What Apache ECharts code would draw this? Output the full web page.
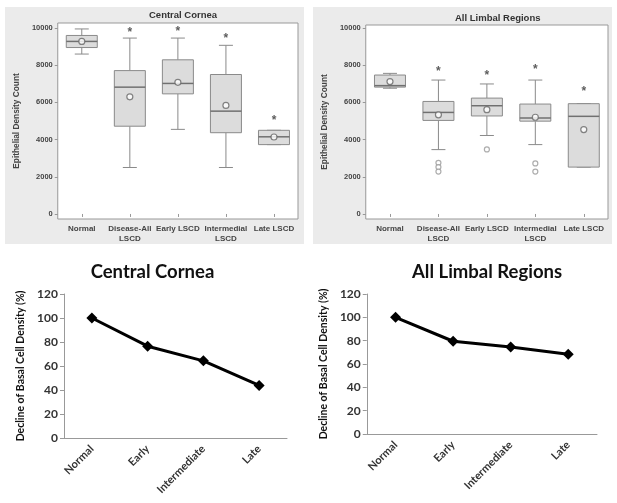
<!DOCTYPE html>
<html lang="en">
<head>
    <meta charset="UTF-8">
    <title>Epithelial density</title>
    <script type="text/javascript" src="https://cdn.jsdelivr.net/npm/echarts@6/dist/echarts.min.js"></script>
    <style>
        body { margin: 0; background: #fff; }
        .panel { position: absolute; }
        .gray { background: #ebebeb; }
    </style>
</head>
<body>
<div id="tl" class="panel gray" style="left:5px;top:7px;width:299px;height:237px;"></div>
<div id="tr" class="panel gray" style="left:313px;top:7px;width:299px;height:237px;"></div>
<div id="bl" class="panel" style="left:0;top:250px;width:305px;height:253px;"></div>
<div id="br" class="panel" style="left:310px;top:250px;width:307px;height:253px;"></div>
<script>
    // top box plots
    var boxCats = ['Normal', 'Disease-All\nLSCD', 'Early LSCD', 'Intermedial\nLSCD', 'Late LSCD'];
    var yTicks = [0, 2000, 4000, 6000, 8000, 10000];

    // [min, Q1, median, Q3, max]
    var ccBox = [
        [8600, 8950, 9280, 9600, 9950],
        [2500, 4720, 6820, 7710, 9460],
        [4550, 6460, 7020, 8290, 9460],
        [2500, 4370, 5530, 7500, 9070],
        [3730, 3730, 4150, 4500, 4500]
    ];
    var ccMean = [9280, 6300, 7080, 5840, 4140];
    var ccStar = [null, 9930, 9990, 9580, 5170];
    var ccOut = [];

    var alBox = [
        [6760, 6820, 6900, 7470, 7560],
        [3460, 5030, 5460, 6050, 7200],
        [4220, 5270, 5820, 6230, 6990],
        [3730, 4990, 5160, 5910, 7200],
        [2520, 2520, 5250, 5930, 5930]
    ];
    var alMean = [7120, 5330, 5610, 5200, 4540];
    var alStar = [null, 7830, 7600, 7920, 6710];
    var alOut = [[1, 2750], [1, 2520], [1, 2280], [2, 3470], [3, 2720], [3, 2280]];

    // bottom line charts
    var lineCats = ['Normal', 'Early', 'Intermediate', 'Late'];
    var ccDecline = [100, 76.5, 64.3, 43.8];
    var alDecline = [100, 79.5, 74.5, 68.3];

    var FONT = 'Liberation Sans, Arial, sans-serif';

    function boxRender(params, api) {
        var i = api.value(0);
        var lo = api.coord([i, api.value(1)]);
        var q1 = api.coord([i, api.value(2)]);
        var md = api.coord([i, api.value(3)]);
        var q3 = api.coord([i, api.value(4)]);
        var hi = api.coord([i, api.value(5)]);
        var x = lo[0], hw = 15.5, cw = 7;
        var ls = {stroke: '#8a8a8a', lineWidth: 1};
        return {
            type: 'group',
            children: [
                {type: 'line', shape: {x1: x, y1: hi[1], x2: x, y2: q3[1]}, style: ls},
                {type: 'line', shape: {x1: x, y1: q1[1], x2: x, y2: lo[1]}, style: ls},
                {type: 'line', shape: {x1: x - cw, y1: hi[1], x2: x + cw, y2: hi[1]}, style: ls},
                {type: 'line', shape: {x1: x - cw, y1: lo[1], x2: x + cw, y2: lo[1]}, style: ls},
                {type: 'rect', shape: {x: x - hw, y: q3[1], width: hw * 2, height: q1[1] - q3[1]},
                    style: {fill: '#dcdcdc', stroke: '#8a8a8a', lineWidth: 1}},
                {type: 'line', shape: {x1: x - hw, y1: md[1], x2: x + hw, y2: md[1]},
                    style: {stroke: '#707070', lineWidth: 1.5}}
            ]
        };
    }

    function pairs(arr) {
        var out = [];
        arr.forEach(function (v, i) {
            if (v !== null) out.push([i, v]);
        });
        return out;
    }

    function boxOption(title, titleLeft, titleTop, grid, yMax, box, mean, star, outl) {
        return {
            animation: false,
            title: {
                text: title, left: titleLeft, top: titleTop, padding: 0,
                textStyle: {fontFamily: FONT, fontSize: 9.5, fontWeight: 'bold', color: '#333'}
            },
            grid: grid,
            xAxis: {
                type: 'category', data: boxCats,
                axisLine: {show: false},
                axisTick: {show: true, alignWithLabel: true, length: 3, lineStyle: {color: '#999'}},
                axisLabel: {fontFamily: FONT, fontSize: 8, fontWeight: 'bold', color: '#444',
                    margin: 5, lineHeight: 10, interval: 0}
            },
            yAxis: {
                type: 'value', min: -270, max: yMax,
                name: 'Epithelial Density Count', nameLocation: 'middle', nameGap: 27,
                nameTextStyle: {fontFamily: FONT, fontSize: 8.3, fontWeight: 'bold', color: '#444'},
                axisLine: {show: false},
                axisTick: {show: true, length: 3, customValues: yTicks, lineStyle: {color: '#999'}},
                axisLabel: {fontFamily: FONT, fontSize: 7.5, fontWeight: 'bold', color: '#444',
                    margin: 5, customValues: yTicks,
                    formatter: function (v) { return String(v); }},
                splitLine: {show: false}
            },
            series: [{
                type: 'custom',
                renderItem: boxRender,
                encode: {x: 0, y: [1, 2, 3, 4, 5]},
                data: box.map(function (d, i) { return [i].concat(d); }),
                z: 2
            }, {
                type: 'scatter',
                data: pairs(mean),
                symbol: 'circle', symbolSize: 6,
                itemStyle: {color: '#fff', borderColor: '#666', borderWidth: 1.2},
                z: 3
            }, {
                type: 'scatter',
                data: outl,
                symbol: 'circle', symbolSize: 5,
                itemStyle: {color: '#fff', borderColor: '#999', borderWidth: 1.2},
                z: 3
            }, {
                type: 'scatter',
                data: pairs(star),
                symbolSize: 1,
                itemStyle: {color: 'rgba(0,0,0,0)'},
                label: {show: true, formatter: '*', position: 'inside', offset: [0, 3],
                    fontFamily: FONT, fontSize: 12, fontWeight: 'bold', color: '#333'},
                z: 3
            }]
        };
    }

    function lineOption(title, titleLeft, grid, nameGap, values) {
        return {
            animation: false,
            title: {
                text: title, left: titleLeft, top: 8,
                textStyle: {fontFamily: 'Lato, sans-serif', fontSize: 18.5, fontWeight: 'bold', color: '#111'}
            },
            grid: grid,
            xAxis: {
                type: 'category', data: lineCats, boundaryGap: true,
                axisLine: {lineStyle: {color: '#999'}},
                axisTick: {length: 5, lineStyle: {color: '#999'}},
                axisLabel: {rotate: 45, fontFamily: 'Lato, sans-serif', fontSize: 11, fontWeight: 'bold',
                    color: '#333', margin: 9, interval: 0}
            },
            yAxis: {
                type: 'value', min: 0, max: 120, interval: 20,
                name: 'Decline of Basal Cell Density (%)', nameLocation: 'middle', nameGap: nameGap,
                nameTextStyle: {fontFamily: 'Lato, sans-serif', fontSize: 10.5, fontWeight: 'bold', color: '#111'},
                axisLine: {show: true, lineStyle: {color: '#999'}},
                axisTick: {show: true, length: 4, lineStyle: {color: '#999'}},
                axisLabel: {fontFamily: 'Lato, sans-serif', fontSize: 12, fontWeight: 'bold',
                    color: '#333', margin: 6},
                splitLine: {show: false}
            },
            series: [{
                type: 'line',
                data: values,
                symbol: 'diamond', symbolSize: 11,
                lineStyle: {color: '#000', width: 3},
                itemStyle: {color: '#000'}
            }]
        };
    }

    var tl = echarts.init(document.getElementById('tl'));
    tl.setOption(boxOption('Central Cornea', 144, 3,
        {left: 41, top: 16, width: 252, height: 197, show: true, backgroundColor: '#fff', borderColor: '#999'},
        10270, ccBox, ccMean, ccStar, ccOut));

    var tr = echarts.init(document.getElementById('tr'));
    tr.setOption(boxOption('All Limbal Regions', 142, 6,
        {left: 40, top: 18, width: 255, height: 195, show: true, backgroundColor: '#fff', borderColor: '#999'},
        10160, alBox, alMean, alStar, alOut));

    var bl = echarts.init(document.getElementById('bl'));
    bl.setOption(lineOption('Central Cornea', 'center',
        {left: 64, top: 44, width: 223, height: 144}, 30, ccDecline));

    var br = echarts.init(document.getElementById('br'));
    br.setOption(lineOption('All Limbal Regions', 97,
        {left: 52, top: 44, width: 235, height: 140}, 29, alDecline));
</script>
</body>
</html>
